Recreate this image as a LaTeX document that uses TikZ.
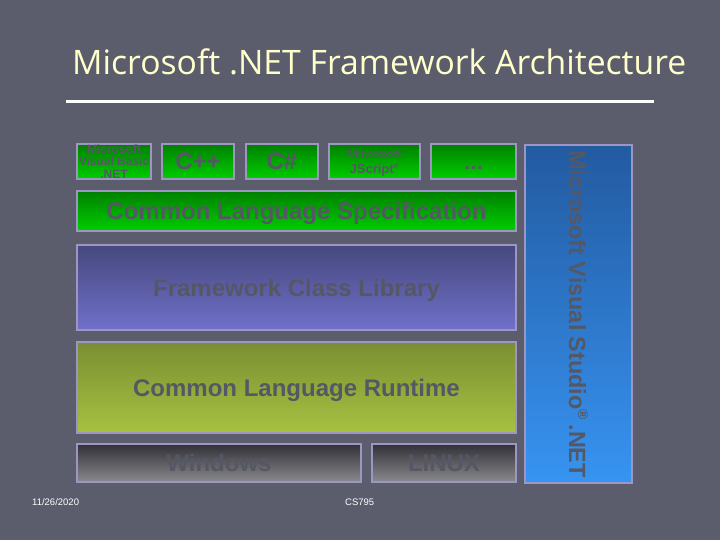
\documentclass[tikz,border=0pt]{standalone}
\usepackage{fontspec}
\setmainfont{Liberation Sans}
\newfontfamily\titlefont{Open Sans}
\definecolor{bg}{RGB}{91,93,108}
\definecolor{titlecol}{RGB}{255,255,204}
\definecolor{bordercol}{RGB}{157,150,194}
\definecolor{txtcol}{RGB}{85,88,100}
\definecolor{gtop}{RGB}{0,128,0}
\definecolor{gbot}{RGB}{0,206,0}
\definecolor{ftop}{RGB}{70,72,125}
\definecolor{fbot}{RGB}{112,112,202}
\definecolor{ctop}{RGB}{122,142,50}
\definecolor{cbot}{RGB}{166,194,66}
\definecolor{otop}{RGB}{48,48,54}
\definecolor{obot}{RGB}{138,138,142}
\definecolor{vtop}{RGB}{35,90,160}
\definecolor{vbot}{RGB}{55,148,242}
\tikzset{
  layer/.style={draw=bordercol, line width=1.8pt, inner sep=0pt, font=\bfseries, text=txtcol, align=center},
  greenbox/.style={layer, top color=gtop, bottom color=gbot},
  fclbox/.style={layer, top color=ftop, bottom color=fbot},
  clrbox/.style={layer, top color=ctop, bottom color=cbot},
  osbox/.style={layer, top color=otop, bottom color=obot},
  vsbox/.style={layer, top color=vtop, bottom color=vbot},
  bigtext/.style={font=\bfseries\fontsize{24}{28}\selectfont, text depth=0pt},
}
\begin{document}
\begin{tikzpicture}[x=1pt,y=-1pt]
\fill[bg] (0,0) rectangle (720,540);
\useasboundingbox (0,0) rectangle (720,540);
% title
\node[anchor=base west, text=titlecol, inner sep=0pt, font=\titlefont\fontsize{33.7}{36}\selectfont] (title) at (72,75) {Microsoft .NET Framework Architecture};
\draw[white, line width=3pt] (66,102) -- (654,102);
% language boxes
\node[greenbox, minimum width=74pt, minimum height=35pt, font=\bfseries\fontsize{12}{12.5}\selectfont] (vb) at (114,161.5) {Microsoft\\Visual Basic\\.NET};
\node[greenbox, minimum width=72pt, minimum height=35pt, bigtext] (cpp) at (198,161.5) {C++};
\node[greenbox, minimum width=72pt, minimum height=35pt, bigtext] (cs) at (282,161.5) {C\#};
\node[greenbox, minimum width=91pt, minimum height=35pt, font=\bfseries\fontsize{13}{15}\selectfont, text depth=0pt] (js) at (374.5,161.5) {{\fontsize{12}{12}\selectfont Microsoft}\\JScript\textsuperscript{\fontsize{7}{7}\selectfont\textregistered}};
\node[greenbox, minimum width=85pt, minimum height=35pt, font=\bfseries\fontsize{20}{22}\selectfont, text height=17pt, text depth=0pt] (etc) at (473.5,161.5) {\dots};
% layers
\node[greenbox, minimum width=439pt, minimum height=40pt, bigtext] (cls) at (296.5,211) {Common Language Specification};
\node[fclbox, minimum width=439pt, minimum height=85pt, bigtext] (fcl) at (296.5,287.5) {Framework Class Library};
\node[clrbox, minimum width=439pt, minimum height=91pt, bigtext] (clr) at (296.5,387.5) {Common Language Runtime};
\node[osbox, minimum width=284pt, minimum height=38pt, bigtext] (win) at (219,463) {Windows};
\node[osbox, minimum width=144pt, minimum height=38pt, bigtext] (linux) at (444,463) {LINUX};
% Visual Studio
\node[vsbox, minimum width=107pt, minimum height=338pt] (vs) at (578.5,314) {};
\node[rotate=-90, text=txtcol, font=\bfseries\fontsize{23.4}{28}\selectfont, inner sep=0pt] (vstext) at (vs.center) {Microsoft Visual Studio\textsuperscript{\fontsize{14}{14}\selectfont\textregistered}\,.NET};
% footer
\node[anchor=west, text=white, font=\fontsize{9.5}{11}\selectfont, inner sep=0pt] (date) at (32,502) {11/26/2020};
\node[anchor=west, text=white, font=\fontsize{9.5}{11}\selectfont, inner sep=0pt] (course) at (345,502) {CS795};
\end{tikzpicture}
\end{document}
